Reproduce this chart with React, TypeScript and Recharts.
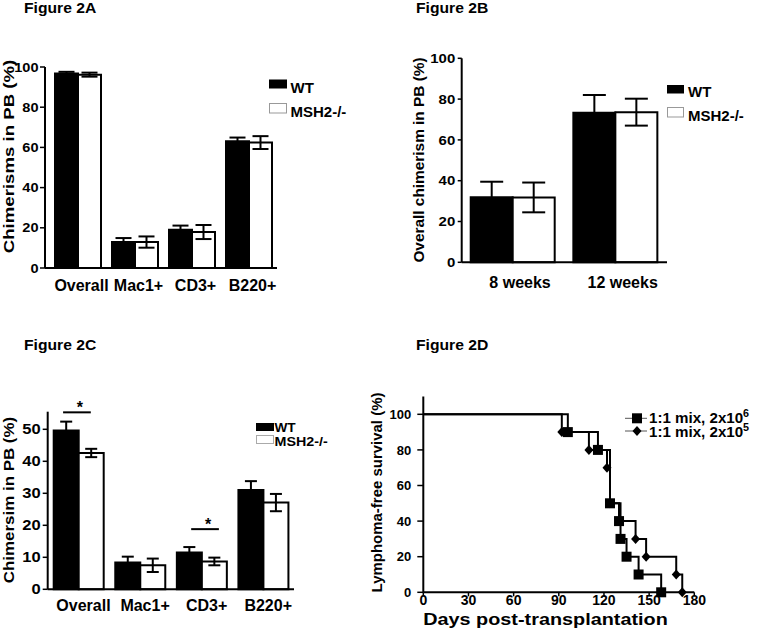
import React from 'react';
import { BarChart, Bar, XAxis, YAxis, ErrorBar, LineChart, Line, ReferenceLine } from 'recharts';

const FONT = '"Liberation Sans", Arial, Helvetica, sans-serif';

// Figure 2A - chimerism per lineage
const catsA = ['Overall', 'Mac1+', 'CD3+', 'B220+'];
const wtA = [96.8, 12.9, 19, 63.1];
const wtErrA = [0.8, 2, 2.1, 1.8];
const koA = [96.2, 12.9, 17.9, 62.4];
const koErrA = [1, 2.8, 3.5, 3.2];
const ticksA = [0, 20, 40, 60, 80, 100];

// Figure 2B - overall chimerism by time
const catsB = ['8 weeks', '12 weeks'];
const wtB = [31.9, 73.3];
const wtErrB = [7.6, 8.7];
const koB = [31.8, 73.6];
const koErrB = [7.3, 6.6];
const ticksB = [0, 20, 40, 60, 80, 100];

// Figure 2C - chimerism per lineage, second cohort
const catsC = ['Overall', 'Mac1+', 'CD3+', 'B220+'];
const wtC = [49.6, 8.4, 11.5, 31];
const wtErrC = [2.8, 1.8, 1.7, 2.8];
const koC = [42.6, 7.5, 8.7, 27.1];
const koErrC = [1.3, 2.1, 1.2, 2.7];
const ticksC = [0, 10, 20, 30, 40, 50];
// significance bars, x in category units (0..4)
const sigX1 = [0.25, 2.33];
const sigX2 = [0.7, 2.78];
const sigY = [55.3, 18.8];

// Figure 2D - lymphoma-free survival (Kaplan-Meier)
const daysHi = [0, 96, 116, 124, 130, 131, 135, 143, 158];
const survHi = [100, 90, 80, 50, 40, 30, 20, 10, 0];
const daysLo = [0, 92, 110, 122, 124, 131, 141, 148, 168, 172];
const survLo = [100, 90, 80, 70, 50, 40, 30, 20, 10, 0];
const ticksDx = [0, 30, 60, 90, 120, 150, 180];
const ticksDy = [0, 20, 40, 60, 80, 100];

const dataA = catsA.map((cat, i) => ({ cat, wt: wtA[i], wtErr: wtErrA[i], ko: koA[i], koErr: koErrA[i] }));
const dataB = catsB.map((cat, i) => ({ cat, wt: wtB[i], wtErr: wtErrB[i], ko: koB[i], koErr: koErrB[i] }));
const dataC = catsC.map((cat, i) => ({ cat, wt: wtC[i], wtErr: wtErrC[i], ko: koC[i], koErr: koErrC[i] }));
const hiData = daysHi.map((day, i) => ({ day, s: survHi[i] }));
const loData = daysLo.map((day, i) => ({ day, s: survLo[i] }));

const axisStyle = { stroke: '#000', strokeWidth: 2 };
const tickStyle = { stroke: '#000', strokeWidth: 1.5 };

const YTick = ({ x = 0, y = 0, payload, fs, sx = 1 }: any) => (
  <text transform={`translate(${x},${y}) scale(${sx},1)`} textAnchor="end" dy={fs * 0.36}
    fontSize={fs} fontWeight="bold" fontFamily={FONT} fill="#000">{payload?.value}</text>
);

const XTick = ({ x = 0, y = 0, payload, fs, sx = 1, off = 0, shift = 0 }: any) => (
  <text transform={`translate(${x + shift},${y}) scale(${sx},1)`} textAnchor="middle" dy={fs * 0.716 + off}
    fontSize={fs} fontWeight="bold" fontFamily={FONT} fill="#000">{payload?.value}</text>
);

const Txt = ({ x, y, fs, sx = 1, rot = false, anchor = 'start', children }: any) => (
  <text transform={`translate(${x},${y})${rot ? ' rotate(-90)' : ''} scale(${sx},1)`} textAnchor={anchor}
    fontSize={fs} fontWeight="bold" fontFamily={FONT} fill="#000">{children}</text>
);

const SquareDot = (p: any) =>
  p.index === 0 ? <g key={`sq${p.index}`} /> :
    <rect key={`sq${p.index}`} x={p.cx - 5} y={p.cy - 5} width={10} height={10} fill="#000" />;

const DiamondDot = (p: any) =>
  p.index === 0 ? <g key={`dm${p.index}`} /> :
    <polygon key={`dm${p.index}`} fill="#000"
      points={`${p.cx},${p.cy - 5} ${p.cx + 4.5},${p.cy} ${p.cx},${p.cy + 5} ${p.cx - 4.5},${p.cy}`} />;

const barPair = (w: number) => [
  <Bar key="wt" dataKey="wt" fill="#000" stroke="#000" strokeWidth={2} isAnimationActive={false}>
    <ErrorBar dataKey="wtErr" width={w} stroke="#000" strokeWidth={2} direction="y" />
  </Bar>,
  <Bar key="ko" dataKey="ko" fill="#fff" stroke="#000" strokeWidth={2} isAnimationActive={false}>
    <ErrorBar dataKey="koErr" width={w} stroke="#000" strokeWidth={2} direction="y" />
  </Bar>,
];

export default function App() {
  return (
    <div style={{ position: 'absolute', left: 0, top: 0, width: 760, height: 636, background: '#fff', overflow: 'hidden' }}>
      {/* 2A */}
      <div style={{ position: 'absolute', left: 0, top: 0 }}>
        <BarChart width={380} height={300} data={dataA} barGap={0} barSize={23}
          margin={{ top: 67, right: 103, bottom: 12, left: 5 }}>
          <XAxis dataKey="cat" height={20} interval={0} padding={{ left: 4, right: 0 }}
            axisLine={axisStyle} tickLine={false} tickSize={0} tickMargin={12} tick={<XTick fs={16} shift={4} />} />
          <YAxis width={40} domain={[0, 100]} ticks={ticksA} interval={0}
            axisLine={axisStyle} tickLine={tickStyle} tickSize={5} tickMargin={1.5} tick={<YTick fs={13} sx={1.12} />} />
          {barPair(8)}
        </BarChart>
      </div>

      {/* 2B */}
      <div style={{ position: 'absolute', left: 380, top: 0 }}>
        <BarChart width={380} height={300} data={dataB} barGap={0} barSize={42}
          margin={{ top: 58.3, right: 93, bottom: 17.7, left: 41.7 }}>
          <XAxis dataKey="cat" height={20} interval={0}
            axisLine={axisStyle} tickLine={false} tickSize={0} tickMargin={14} tick={<XTick fs={16} shift={7} />} />
          <YAxis width={40} domain={[0, 100]} ticks={ticksB} interval={0}
            axisLine={axisStyle} tickLine={tickStyle} tickSize={4} tickMargin={2.5} tick={<YTick fs={13} sx={1.15} />} />
          {barPair(11.5)}
        </BarChart>
      </div>

      {/* 2C */}
      <div style={{ position: 'absolute', left: 0, top: 300 }}>
        <BarChart width={380} height={336} data={dataC} barGap={0} barSize={25}
          margin={{ top: 111.7, right: 86, bottom: 26.7, left: 7.7 }}>
          <XAxis dataKey="cat" height={20} interval={0}
            axisLine={axisStyle} tickLine={false} tickSize={0} tickMargin={10} tick={<XTick fs={16} shift={5} />} />
          <YAxis width={40} domain={[0, 55.5]} ticks={ticksC} interval={0}
            axisLine={axisStyle} tickLine={tickStyle} tickSize={5} tickMargin={2} tick={<YTick fs={14} sx={1.18} />} />
          {barPair(6)}
        </BarChart>
      </div>
      {/* 2C significance bars, on the same plot area with a numeric x scale */}
      <div style={{ position: 'absolute', left: 0, top: 300, pointerEvents: 'none' }}>
        <LineChart width={380} height={336} margin={{ top: 111.7, right: 86, bottom: 46.7, left: 47.7 }}>
          <XAxis type="number" dataKey="x" domain={[0, 4]} allowDataOverflow hide />
          <YAxis type="number" domain={[0, 55.5]} allowDataOverflow hide />
          {sigY.map((y, i) => (
            <ReferenceLine key={`sig${i}`} ifOverflow="visible" stroke="#000" strokeWidth={2}
              segment={[{ x: sigX1[i], y }, { x: sigX2[i], y }]}
              label={{ value: '*', position: 'top', dx: 3, offset: -1, fontSize: 16, fontWeight: 'bold', fill: '#000', fontFamily: FONT }} />
          ))}
        </LineChart>
      </div>

      {/* 2D */}
      <div style={{ position: 'absolute', left: 380, top: 300 }}>
        <LineChart width={380} height={336} margin={{ top: 96.5, right: 65.7, bottom: 23.7, left: 3.3 }}>
          <XAxis dataKey="day" type="number" domain={[0, 180]} ticks={ticksDx} interval={0} height={20} allowDataOverflow
            axisLine={axisStyle} tickLine={tickStyle} tickSize={4} tickMargin={0} tick={<XTick fs={14} off={-1} />} />
          <YAxis type="number" domain={[0, 110]} ticks={ticksDy} interval={0} width={40}
            axisLine={axisStyle} tickLine={tickStyle} tickSize={6} tickMargin={6} tick={<YTick fs={13} />} />
          <Line data={loData} dataKey="s" type="stepAfter" stroke="#000" strokeWidth={2} dot={DiamondDot} isAnimationActive={false} />
          <Line data={hiData} dataKey="s" type="stepAfter" stroke="#000" strokeWidth={2} dot={SquareDot} isAnimationActive={false} />
        </LineChart>
      </div>

      {/* titles, axis titles, legends */}
      <svg width={760} height={636} style={{ position: 'absolute', left: 0, top: 0, pointerEvents: 'none' }}>
        <Txt x={24} y={13} fs={14} sx={1.12}>Figure 2A</Txt>
        <Txt x={416} y={13} fs={14} sx={1.12}>Figure 2B</Txt>
        <Txt x={24} y={350} fs={14} sx={1.12}>Figure 2C</Txt>
        <Txt x={416} y={350} fs={14} sx={1.12}>Figure 2D</Txt>

        <Txt x={13.5} y={156.5} fs={14} sx={1.33} rot anchor="middle">Chimerisms in PB (%)</Txt>
        <Txt x={424} y={160} fs={14} sx={1.1} rot anchor="middle">Overall chimerism in PB (%)</Txt>
        <Txt x={14} y={500} fs={14} sx={1.21} rot anchor="middle">Chimersim in PB (%)</Txt>
        <Txt x={382} y={492.5} fs={14} sx={1.07} rot anchor="middle">Lymphoma-free survival (%)</Txt>
        <Txt x={545.5} y={625} fs={16} sx={1.24} anchor="middle">Days post-transplantation</Txt>

        <rect x={269} y={79.5} width={18} height={9} fill="#000" />
        <Txt x={290.5} y={92.5} fs={15}>WT</Txt>
        <rect x={269.5} y={103.5} width={17} height={9.5} fill="#fff" stroke="#999" strokeWidth={1} />
        <Txt x={290.5} y={116.5} fs={15}>MSH2-/-</Txt>

        <rect x={667} y={85} width={17} height={8.5} fill="#000" />
        <Txt x={688} y={96.5} fs={15}>WT</Txt>
        <rect x={667.5} y={107.5} width={16} height={9.5} fill="#fff" stroke="#999" strokeWidth={1} />
        <Txt x={688} y={120.5} fs={15}>MSH2-/-</Txt>

        <rect x={256} y={423} width={18} height={8} fill="#000" />
        <Txt x={274.5} y={431.5} fs={13} sx={1.05}>WT</Txt>
        <rect x={256.5} y={435.5} width={17} height={8} fill="#fff" stroke="#aaa" strokeWidth={1} />
        <Txt x={274.5} y={445.5} fs={13} sx={1.1}>MSH2-/-</Txt>

        <line x1={625} y1={418.3} x2={647} y2={418.3} stroke="#555" strokeWidth={1} />
        <rect x={632} y={413.3} width={10} height={10} fill="#000" />
        <Txt x={649} y={423} fs={14} sx={1.08}>1:1 mix, 2x10<tspan dy={-6} fontSize={10}>6</tspan></Txt>
        <line x1={625} y1={431} x2={647} y2={431} stroke="#555" strokeWidth={1} />
        <polygon points="637,426 641.5,431 637,436 632.5,431" fill="#000" />
        <Txt x={649} y={436.5} fs={14} sx={1.08}>1:1 mix, 2x10<tspan dy={-6} fontSize={10}>5</tspan></Txt>
      </svg>
    </div>
  );
}
